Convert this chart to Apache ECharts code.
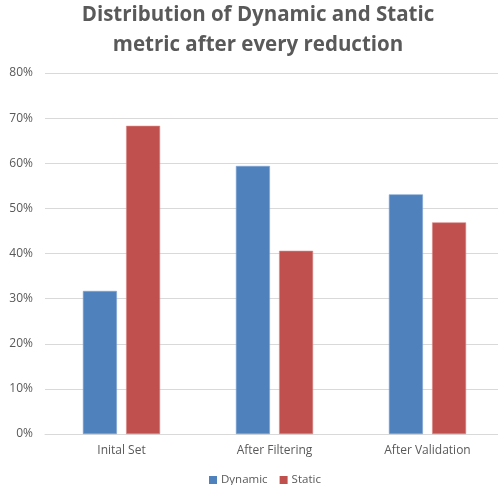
<!DOCTYPE html>
<html>
<head>
<meta charset="utf-8">
<script src="https://cdn.jsdelivr.net/npm/echarts@6/dist/echarts.min.js"></script>
<style>
  html, body { margin: 0; padding: 0; background: #fff; }
  #chart { width: 498px; height: 485px; }
</style>
</head>
<body>
<div id="chart"></div>
<script>
// Share of each metric type (percent) after each reduction step
const categories = ['Inital Set', 'After Filtering', 'After Validation'];
const dynamicValues = [31.7, 59.4, 53.1];
const staticValues = [68.3, 40.6, 46.9];

const textColor = '#595959';
const font = 'Open Sans';

const chart = echarts.init(document.getElementById('chart'), null, { renderer: 'canvas' });
chart.setOption({
  animation: false,
  backgroundColor: '#ffffff',
  title: {
    text: 'Distribution of Dynamic and Static\nmetric after every reduction',
    left: 258,
    top: 0,
    padding: 0,
    textAlign: 'center',
    textStyle: {
      fontFamily: font,
      fontWeight: 'bold',
      fontSize: 20.5,
      lineHeight: 30,
      color: textColor
    }
  },
  legend: {
    data: ['Dynamic', 'Static'],
    left: 204,
    top: 469,
    itemWidth: 8,
    itemHeight: 8,
    itemGap: 12,
    icon: 'rect',
    itemStyle: { borderWidth: 0 },
    textStyle: { fontFamily: font, fontSize: 11.5, color: textColor, padding: [0, 0, 0, -1] }
  },
  // plot area runs slightly past the right edge of the canvas
  grid: { left: 45, width: 459, top: 73, bottom: 51, containLabel: false, outerBoundsMode: 'none' },
  xAxis: {
    type: 'category',
    data: categories,
    axisTick: { show: false },
    axisLine: { lineStyle: { color: '#d9d9d9' } },
    axisLabel: { fontFamily: font, fontSize: 12, color: textColor, margin: 11 }
  },
  yAxis: {
    type: 'value',
    min: 0,
    max: 80,
    interval: 10,
    axisLine: { show: false },
    axisTick: { show: false },
    splitLine: { lineStyle: { color: '#d9d9d9' } },
    axisLabel: { fontFamily: font, fontSize: 12, color: textColor, margin: 12, formatter: '{value}%' }
  },
  series: [
    {
      name: 'Dynamic',
      type: 'bar',
      data: dynamicValues,
      barWidth: 34,
      barGap: '27%',
      itemStyle: { color: '#4f81bd', borderColor: '#7fa3d1', borderWidth: 0.6 }
    },
    {
      name: 'Static',
      type: 'bar',
      data: staticValues,
      barWidth: 34,
      barGap: '27%',
      itemStyle: { color: '#c0504d', borderColor: '#d88a88', borderWidth: 0.6 }
    }
  ]
});
</script>
</body>
</html>
